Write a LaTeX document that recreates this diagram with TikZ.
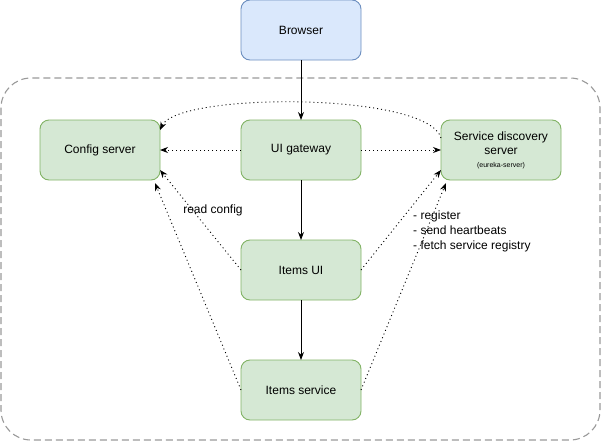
\documentclass[tikz,border=0pt]{standalone}
\usepackage{fontspec}
\setmainfont{Liberation Sans}
\usetikzlibrary{arrows.meta,positioning}
\definecolor{BoxFill}{HTML}{D5E8D4}
\definecolor{BoxLine}{HTML}{82B366}
\definecolor{WebFill}{HTML}{DAE8FC}
\definecolor{WebLine}{HTML}{6C8EBF}
\definecolor{FrameGray}{HTML}{999999}

\begin{document}
\begin{tikzpicture}[x=1pt,y=-1pt,
  svc/.style={rectangle,rounded corners=9pt,draw=BoxLine,fill=BoxFill,line width=0.9pt,
              minimum width=120pt,minimum height=60pt,outer sep=0pt,align=center,
              font=\fontsize{12}{14}\selectfont},
  web/.style={svc,draw=WebLine,fill=WebFill},
  flow/.style={-{Stealth[length=8pt,width=6pt]},line width=0.9pt},
  dep/.style={-{Stealth[length=8pt,width=6pt]},dash pattern=on 1pt off 3pt,line width=0.9pt},
  lbl/.style={font=\fontsize{12}{15}\selectfont,align=left}]
\useasboundingbox (0,0) rectangle (602,442);
% frame
\draw[FrameGray,dash pattern=on 7pt off 4pt,line width=1.1pt,rounded corners=30pt]
  (1,78) rectangle (600,440);
\node[web] (browser) at (301,30) {Browser};
\node[svc,below=60pt of browser] (gateway) {UI gateway};
\node[svc,left=81pt of gateway] (config) {Config server};
\node[svc,right=80pt of gateway] (discovery) {Service discovery\\server\\[-1pt]
  {\fontsize{7}{8}\selectfont(eureka-server)}};
\node[svc,below=60pt of gateway] (itemsui) {Items UI};
\node[svc,below=60pt of itemsui] (itemssvc) {Items service};
\draw[flow] (browser) -- (gateway);
\draw[flow] (gateway) -- (itemsui);
\draw[flow] (itemsui) -- (itemssvc);
\draw[dep] (gateway) -- (config);
\draw[dep] (gateway) -- (discovery);
\draw[dep] ([yshift=12pt]discovery.west) .. controls (428,92) and (178,92) .. ([yshift=20pt]config.east);
\draw[dep] (itemsui.west) -- ([yshift=-20pt]config.east);
\draw[dep] (itemssvc.west) -- ([xshift=-5pt,yshift=-3pt]config.south east);
\draw[dep] (itemsui.east) -- ([yshift=-20pt]discovery.west);
\draw[dep] (itemssvc.east) -- ([xshift=5pt,yshift=-3pt]discovery.south west);
\node[lbl] (readcfg) at (213,210) {read config};
\node[lbl,anchor=north west,inner sep=0pt] (regtasks) at (413,211)
  {- register\\- send heartbeats\\- fetch service registry};
\end{tikzpicture}
\end{document}
